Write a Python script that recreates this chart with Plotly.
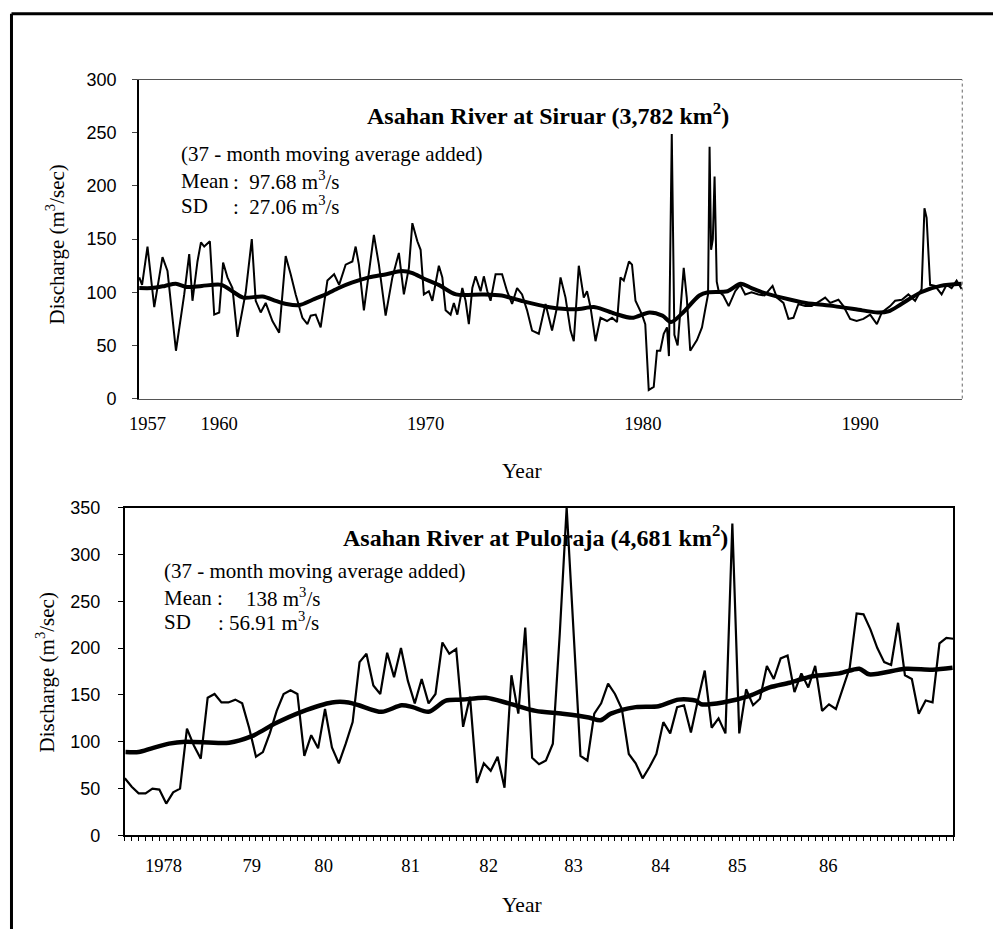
import plotly.graph_objects as go

# ---------------- Data: Asahan River at Siruar (top) ----------------
siruar_year = [
    1956.82, 1956.95, 1957.20, 1957.51, 1957.89, 1958.12, 1958.51, 1958.89, 1959.12, 1959.27,
    1959.50, 1959.66, 1959.81, 1960.07, 1960.27, 1960.50, 1960.68, 1960.88, 1961.11, 1961.34,
    1961.72, 1962.00, 1962.18, 1962.41, 1962.64, 1962.95, 1963.26, 1963.56, 1963.79, 1964.02,
    1964.33, 1964.56, 1964.71, 1964.94, 1965.17, 1965.48, 1965.79, 1966.02, 1966.32, 1966.63,
    1966.78, 1966.93, 1967.16, 1967.39, 1967.62, 1967.85, 1968.16, 1968.47, 1968.77, 1969.00,
    1969.23, 1969.39, 1969.62, 1969.77, 1969.92, 1970.15, 1970.31, 1970.61, 1970.77, 1970.92,
    1971.15, 1971.30, 1971.46, 1971.69, 1971.84, 1971.99, 1972.15, 1972.30, 1972.53, 1972.68,
    1972.84, 1972.99, 1973.22, 1973.52, 1973.75, 1973.98, 1974.21, 1974.44, 1974.67, 1974.90,
    1975.21, 1975.52, 1975.82, 1976.05, 1976.21, 1976.44, 1976.67, 1976.82, 1977.05, 1977.28,
    1977.43, 1977.59, 1977.82, 1978.05, 1978.35, 1978.58, 1978.81, 1978.97, 1979.12, 1979.36,
    1979.50, 1979.66, 1979.81, 1979.96, 1980.11, 1980.27, 1980.50, 1980.65, 1980.80, 1980.96,
    1981.11, 1981.20, 1981.33, 1981.45, 1981.60, 1981.88, 1982.02, 1982.18, 1982.49, 1982.72,
    1982.88, 1983.00, 1983.07, 1983.14, 1983.22, 1983.30, 1983.40, 1983.49, 1983.70, 1983.95,
    1984.25, 1984.48, 1984.71, 1985.00, 1985.32, 1985.60, 1985.97, 1986.17, 1986.47, 1986.70,
    1986.93, 1987.16, 1987.47, 1987.77, 1988.16, 1988.39, 1988.62, 1989.00, 1989.23, 1989.54,
    1989.84, 1990.15, 1990.46, 1990.77, 1991.00, 1991.38, 1991.61, 1991.92, 1992.22, 1992.53,
    1992.83, 1992.96, 1993.06, 1993.22, 1993.45, 1993.75, 1993.98, 1994.21, 1994.44, 1994.67,
]
siruar_q = [
    114, 107, 143, 86, 133, 120, 45, 98, 136, 92,
    129, 147, 143, 148, 79, 81, 128, 114, 104, 58,
    100, 150, 92, 81, 90, 73, 62, 134, 117, 98,
    76, 70, 78, 79, 67, 111, 117, 107, 126, 129,
    143, 126, 83, 117, 154, 126, 78, 114, 137, 98,
    123, 165, 148, 140, 98, 101, 92, 125, 114, 83,
    79, 90, 79, 104, 92, 70, 104, 115, 101, 115,
    101, 92, 117, 117, 101, 89, 104, 98, 83, 64,
    61, 89, 64, 86, 114, 95, 64, 54, 125, 95,
    101, 86, 54, 76, 73, 76, 72, 114, 111, 129,
    126, 92, 86, 79, 70, 8, 11, 45, 45, 61,
    67, 40, 249, 60, 50, 123, 95, 45, 55, 67,
    85, 98, 237, 140, 150, 209, 110, 101, 97, 87,
    101, 107, 98, 100, 98, 97, 106, 95, 90, 75,
    76, 89, 87, 87, 92, 95, 90, 93, 87, 75,
    73, 75, 79, 70, 81, 87, 92, 93, 98, 92,
    103, 179, 170, 107, 106, 98, 107, 104, 111, 103,
]
siruar_ma_year = [
    1956.82, 1957.4, 1958.0, 1958.5, 1959.0, 1959.7, 1960.6, 1961.1, 1961.6, 1962.5,
    1963.1, 1963.6, 1964.2, 1964.8, 1965.4, 1966.0, 1966.6, 1967.4, 1968.2, 1968.9,
    1969.4, 1969.9, 1970.6, 1971.4, 1972.6, 1973.5, 1974.4, 1975.7, 1976.9, 1977.8,
    1978.7, 1979.5, 1980.3, 1980.9, 1981.3, 1981.8, 1982.6, 1983.0, 1983.9, 1984.5,
    1985.0, 1985.5, 1986.4, 1987.5, 1988.8, 1990.1, 1990.8, 1991.3, 1991.9, 1992.8,
    1993.7, 1994.67,
]
siruar_ma_q = [
    104, 104, 106, 108, 105, 106, 107, 101, 95, 96,
    92, 89, 88, 93, 98, 104, 109, 114, 117, 120,
    118, 113, 107, 98, 98, 97, 92, 86, 84, 86,
    80, 76, 81, 78, 72, 80, 97, 100, 101, 108,
    104, 100, 95, 90, 87, 83, 81, 82, 89, 100,
    106, 108,
]
siruar_tick_pos = [1957.2, 1960.5, 1970, 1980, 1990]
siruar_tick_text = ["1957", "1960", "1970", "1980", "1990"]

# ---------------- Data: Asahan River at Puloraja (bottom) ----------------
# monthly values, month index 0 = mid 1977
puloraja_q = [
    61, 52, 45, 45, 50, 49, 34, 46, 50, 114,
    96, 82, 147, 151, 142, 142, 145, 141, 115, 84,
    89, 109, 133, 151, 155, 151, 85, 107, 93, 135,
    94, 77, 98, 121, 185, 194, 160, 151, 195, 169,
    200, 165, 141, 167, 141, 151, 206, 194, 199, 116,
    148, 56, 77, 69, 84, 51, 171, 130, 222, 83,
    76, 80, 98, 215, 350, 218, 85, 80, 130, 141,
    162, 151, 135, 87, 77, 61, 73, 87, 121, 109,
    137, 139, 110, 144, 176, 115, 125, 109, 333, 109,
    156, 139, 146, 181, 167, 189, 192, 153, 173, 158,
    181, 133, 140, 135, 157, 179, 237, 236, 220, 200,
    185, 182, 227, 171, 167, 130, 144, 142, 205, 211,
    210,
]
puloraja_month = list(range(len(puloraja_q)))
puloraja_ma_month = [
    0.1, 2.0, 3.9, 6.4, 8.8, 15.1, 18.4, 21.9, 25.6, 30.0,
    32.4, 33.9, 37.2, 40.1, 41.7, 44.0, 46.5, 48.9, 52.3, 55.6,
    59.5, 63.4, 67.2, 68.9, 70.4, 74.0, 77.3, 80.2, 82.7, 83.5,
    86.6, 90.5, 93.4, 96.3, 99.6, 103.5, 106.4, 107.8, 113.1, 117.0,
    119.9,
]
puloraja_ma_q = [
    89, 89, 93, 98, 100, 99, 106, 120, 132, 142,
    142, 139, 132, 139, 137, 132, 144, 145, 147, 141,
    133, 130, 126, 123, 130, 137, 138, 145, 144, 140,
    142, 149, 158, 163, 170, 173, 178, 172, 178, 177,
    179,
]
puloraja_tick_pos = [5.6, 18.4, 28.8, 41.4, 52.7, 65.0, 77.6, 88.7, 101.9]
puloraja_tick_text = ["1978", "79", "80", "81", "82", "83", "84", "85", "86"]

W, H = 993, 940
SERIF = "Liberation Serif, Times New Roman, serif"
SANS = "Liberation Sans, Arial, sans-serif"

# the captured picture maps page pixels as  shot = 9.1 + 0.9906*x,  9.3 + 0.979*y ;
# layout positions below are given in picture pixels and converted back here.


def fx(s):
    return ((s - 9.1) / 0.9906) / W


def fy(s):
    return 1 - ((s - 9.3) / 0.979) / H


fig = go.Figure()

fig.add_trace(go.Scatter(x=siruar_year, y=siruar_q, mode="lines",
                         line=dict(color="black", width=2.0),
                         xaxis="x", yaxis="y", showlegend=False))
fig.add_trace(go.Scatter(x=siruar_ma_year, y=siruar_ma_q, mode="lines",
                         line=dict(color="black", width=4, shape="spline", smoothing=0.8),
                         xaxis="x", yaxis="y", showlegend=False))
fig.add_trace(go.Scatter(x=puloraja_month, y=puloraja_q, mode="lines",
                         line=dict(color="black", width=2.2),
                         xaxis="x2", yaxis="y2", showlegend=False))
fig.add_trace(go.Scatter(x=puloraja_ma_month, y=puloraja_ma_q, mode="lines",
                         line=dict(color="black", width=4.5, shape="spline", smoothing=0.8),
                         xaxis="x2", yaxis="y2", showlegend=False))

fig.update_layout(
    width=W, height=H,
    margin=dict(l=0, r=0, t=0, b=0),
    paper_bgcolor="white", plot_bgcolor="white",
    showlegend=False,
    xaxis=dict(domain=[fx(138), fx(962)], range=[1956.8, 1994.7], anchor="y",
               tickmode="array", tickvals=siruar_tick_pos, ticktext=siruar_tick_text,
               ticks="", showgrid=False, zeroline=False,
               showline=True, linecolor="#555", linewidth=1, mirror=True,
               tickfont=dict(family=SERIF, size=18.6, color="black"),
               ticklabelstandoff=8),
    yaxis=dict(domain=[fy(398), fy(79)], range=[0, 300], anchor="x",
               tickmode="array", tickvals=[0, 50, 100, 150, 200, 250, 300],
               ticks="outside", ticklen=5, tickcolor="#444", tickwidth=1,
               showgrid=False, zeroline=False,
               showline=True, linecolor="black", linewidth=1.5,
               tickfont=dict(family=SANS, size=18, color="black"),
               ticklabelstandoff=12),
    xaxis2=dict(domain=[fx(124), fx(953)], range=[0, 120], anchor="y2",
                tickmode="array", tickvals=puloraja_tick_pos, ticktext=puloraja_tick_text,
                ticks="", showgrid=False, zeroline=False,
                showline=True, linecolor="black", linewidth=2, mirror=True,
                tickfont=dict(family=SERIF, size=18.6, color="black"),
                ticklabelstandoff=12,
                minor=dict(tickmode="array", tickvals=puloraja_month, ticks="outside",
                           ticklen=4, tickcolor="black", tickwidth=1, showgrid=False)),
    yaxis2=dict(domain=[fy(835), fy(507)], range=[0, 350], anchor="x2",
                tickmode="array", tickvals=[0, 50, 100, 150, 200, 250, 300, 350],
                ticks="outside", ticklen=5, tickcolor="black", tickwidth=1,
                showgrid=False, zeroline=False,
                showline=True, linecolor="black", linewidth=2, mirror=True,
                tickfont=dict(family=SANS, size=18, color="black"),
                ticklabelstandoff=14),
)

# right border of the top panel (thin dotted)
fig.add_shape(type="line", xref="x domain", yref="y domain", x0=1, x1=1, y0=0, y1=1,
              line=dict(color="#666", width=1, dash="dot"))

# outer frame (left and top edges)
fig.add_shape(type="line", xref="paper", yref="paper", x0=1.5 / W, x1=1.5 / W, y0=0, y1=fy(13),
              line=dict(color="black", width=3))
fig.add_shape(type="line", xref="paper", yref="paper", x0=1.5 / W, x1=1, y0=fy(13), y1=fy(13),
              line=dict(color="black", width=3))


def text(x, y, s, size=21, bold=False, anchor="left", angle=0):
    if bold:
        s = "<b>" + s + "</b>"
    fig.add_annotation(x=fx(x), y=fy(y), xref="paper", yref="paper", text=s,
                       showarrow=False, xanchor=anchor, yanchor="middle",
                       textangle=angle,
                       font=dict(family=SERIF, size=size, color="black"))


# top panel texts
text(547, 113, "Asahan River at Siruar (3,782 km<sup>2</sup>)", size=24, bold=True, anchor="center")
text(178, 153, "(37 - month moving average added)")
text(178, 180, "Mean")
text(230, 180, ":  97.68 m<sup>3</sup>/s")
text(178, 205, "SD")
text(230, 205, ":  27.06 m<sup>3</sup>/s")
text(55, 244, "Discharge (m<sup>3</sup>/sec)", anchor="center", angle=-90)
text(521, 470, "Year", size=21.5, anchor="center")

# bottom panel texts
text(535, 535, "Asahan River at Puloraja (4,681 km<sup>2</sup>)", size=24, bold=True, anchor="center")
text(161, 570, "(37 - month moving average added)")
text(161, 597, "Mean :")
text(243, 597, "138 m<sup>3</sup>/s")
text(161, 621, "SD")
text(215, 621, ": 56.91 m<sup>3</sup>/s")
text(45, 672, "Discharge (m<sup>3</sup>/sec)", anchor="center", angle=-90)
text(521, 905, "Year", size=21.5, anchor="center")

fig.write_html(
    "out.html",
    config={"displayModeBar": False},
    post_script="document.body.style.margin='0';document.body.style.overflow='hidden';",
)
